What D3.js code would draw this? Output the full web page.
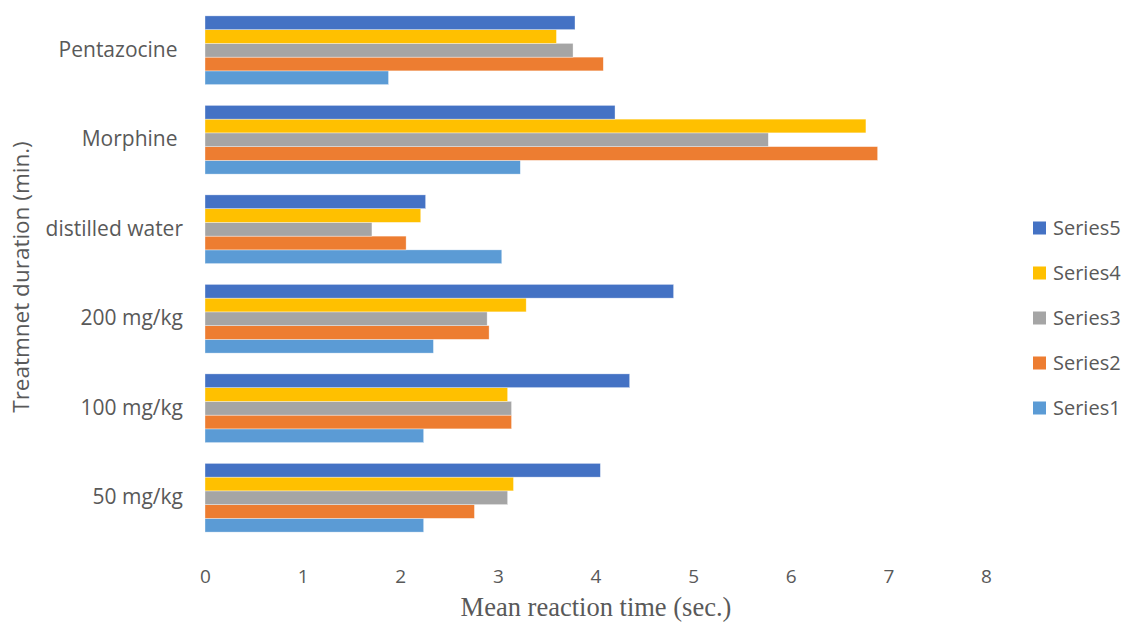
<!DOCTYPE html>
<html>
<head>
<meta charset="utf-8">
<script src="https://cdn.jsdelivr.net/npm/d3@7"></script>
<style>
  html, body { margin: 0; padding: 0; background: #fff; }
  svg { display: block; }
</style>
</head>
<body>
<svg id="chart" width="1124" height="624"></svg>
<script>
// Treatment groups, listed bottom to top as drawn on the category axis
const categories = ["50 mg/kg", "100 mg/kg", "200 mg/kg", "distilled water", "Morphine ", "Pentazocine "];
const seriesNames = ["Series1", "Series2", "Series3", "Series4", "Series5"];
// Mean reaction time (sec.) per series, same order as categories
const series1 = [2.24, 2.24, 2.34, 3.04, 3.23, 1.88];
const series2 = [2.76, 3.14, 2.91, 2.06, 6.89, 4.08];
const series3 = [3.10, 3.14, 2.89, 1.71, 5.77, 3.77];
const series4 = [3.16, 3.10, 3.29, 2.21, 6.77, 3.60];
const series5 = [4.05, 4.35, 4.80, 2.26, 4.20, 3.79];
const xTicks = [0, 1, 2, 3, 4, 5, 6, 7, 8];
const colors = ["#5B9BD5", "#ED7D31", "#A5A5A5", "#FFC000", "#4472C4"];

const allSeries = [series1, series2, series3, series4, series5];

const svg = d3.select("#chart");
const plot = { left: 205, right: 986, top: 5.5, bottom: 542.5 };

const x = d3.scaleLinear().domain([0, 8]).range([plot.left, plot.right]);

// Categories run bottom-up, so the first one sits at the bottom
const y = d3.scaleBand()
  .domain(categories)
  .range([plot.bottom, plot.top])
  .paddingInner(0.232)
  .paddingOuter(0.116);

// Within a group Series5 is on top and Series1 at the bottom
const ySub = d3.scaleBand()
  .domain(seriesNames.slice().reverse())
  .range([0, y.bandwidth()]);

const font = "'Open Sans', 'Noto Sans', sans-serif";
const textColor = "#595959";

// Bars
const groups = svg.append("g").selectAll("g")
  .data(categories)
  .join("g")
  .attr("transform", d => `translate(0,${y(d)})`);

groups.selectAll("rect")
  .data((c, ci) => seriesNames.map((s, si) => ({ s, si, v: allSeries[si][ci] })))
  .join("rect")
  .attr("x", x(0))
  .attr("y", d => ySub(d.s))
  .attr("width", d => x(d.v) - x(0))
  .attr("height", ySub.bandwidth())
  .attr("fill", d => colors[d.si])
  .attr("stroke", "#ffffff")
  .attr("stroke-opacity", 0.6)
  .attr("stroke-width", 0.6);

// X axis tick labels (no axis line or ticks)
const xAxis = d3.axisBottom(x).tickValues(xTicks).tickSize(0).tickPadding(0).tickFormat(d3.format("d"));
const xg = svg.append("g")
  .attr("transform", `translate(0,${plot.bottom})`)
  .call(xAxis);
xg.select(".domain").remove();
xg.selectAll("text")
  .attr("y", 34)
  .attr("dy", "0.35em")
  .style("font-family", font)
  .style("font-size", "19px")
  .attr("fill", textColor);

// Category labels
const yAxis = d3.axisLeft(y).tickSize(0).tickPadding(0);
const yg = svg.append("g")
  .attr("transform", `translate(183,0)`)
  .call(yAxis);
yg.select(".domain").remove();
yg.selectAll("text")
  .attr("x", 0)
  .style("white-space", "pre")
  .style("font-family", font)
  .style("font-size", "21px")
  .attr("fill", textColor);

// Axis titles
svg.append("text")
  .attr("x", 596)
  .attr("y", 616)
  .attr("text-anchor", "middle")
  .style("font-family", "'Liberation Serif', 'Times New Roman', serif")
  .style("font-size", "26.5px")
  .attr("fill", textColor)
  .text("Mean reaction time (sec.)");

svg.append("text")
  .attr("transform", "translate(29,277) rotate(-90)")
  .attr("text-anchor", "middle")
  .style("font-family", font)
  .style("font-size", "22.5px")
  .attr("fill", textColor)
  .text("Treatmnet duration (min.)");

// Legend
const legendY = d3.scalePoint().domain(seriesNames.slice().reverse()).range([228, 408]);
const legend = svg.append("g").selectAll("g")
  .data(seriesNames.map((s, i) => ({ s, i })))
  .join("g")
  .attr("transform", d => `translate(1033,${legendY(d.s)})`);
legend.append("rect")
  .attr("x", 0).attr("y", -6.5)
  .attr("width", 13).attr("height", 13)
  .attr("fill", d => colors[d.i]);
legend.append("text")
  .attr("x", 20)
  .attr("dy", "0.35em")
  .style("font-family", font)
  .style("font-size", "20px")
  .attr("fill", textColor)
  .text(d => d.s);
</script>
</body>
</html>
